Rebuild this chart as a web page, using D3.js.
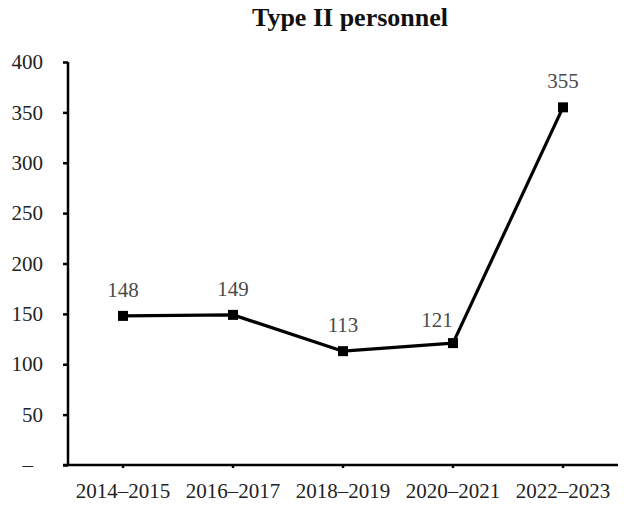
<!DOCTYPE html>
<html>
<head>
<meta charset="utf-8">
<script src="https://cdn.jsdelivr.net/npm/d3@7"></script>
<style>
  body { margin: 0; background: #fff; }
  svg { display: block; }
  svg text { font-family: "Liberation Serif", "Times New Roman", serif; }
</style>
</head>
<body>
<div id="chart"></div>
<script>
const title = "Type II personnel";
const periods = ["2014–2015", "2016–2017", "2018–2019", "2020–2021", "2022–2023"];
const personnel = [148, 149, 113, 121, 355];
const yTicks = [0, 50, 100, 150, 200, 250, 300, 350, 400];

const width = 630, height = 510;
const margin = { top: 62, right: 12, bottom: 45, left: 68 };

const svg = d3.select("#chart").append("svg")
  .attr("width", width)
  .attr("height", height);

const x = d3.scaleBand()
  .domain(periods)
  .range([margin.left, width - margin.right]);

const y = d3.scaleLinear()
  .domain([0, 400])
  .range([height - margin.bottom, margin.top]);

// title
svg.append("text")
  .attr("x", 350)
  .attr("y", 26)
  .attr("text-anchor", "middle")
  .attr("font-size", 26)
  .attr("font-weight", "bold")
  .attr("fill", "#111")
  .text(title);

// y axis
const yAxis = svg.append("g")
  .attr("transform", `translate(${margin.left},0)`)
  .call(d3.axisLeft(y).tickValues(yTicks).tickSize(5).tickPadding(20)
    .tickFormat(d => d === 0 ? "–" : d))
  .attr("font-family", "Liberation Serif, serif")
  .attr("font-size", 21);
yAxis.select(".domain").attr("stroke", "#000").attr("stroke-width", 2.5)
  .attr("d", `M0,${y(400)}V${y(0)}`);
yAxis.selectAll(".tick line").attr("stroke", "#000").attr("stroke-width", 2.5);
yAxis.selectAll(".tick text").attr("fill", "#222");
// the zero dash sits a bit further left than the numbers
yAxis.selectAll(".tick text").filter(d => d === 0).attr("x", -35);

// x axis
const xAxis = svg.append("g")
  .attr("transform", `translate(0,${y(0)})`)
  .call(d3.axisBottom(x).tickSize(3).tickPadding(15))
  .attr("font-family", "Liberation Serif, serif")
  .attr("font-size", 21);
xAxis.select(".domain").attr("stroke", "#000").attr("stroke-width", 2.5)
  .attr("d", `M${margin.left - 5},0H${width - margin.right}`);
xAxis.selectAll(".tick line").attr("stroke", "#000").attr("stroke-width", 2.5);
xAxis.selectAll(".tick text").attr("fill", "#222");

// line
const cx = (d, i) => x(periods[i]) + x.bandwidth() / 2;
const line = d3.line()
  .x(cx)
  .y(d => y(d));

svg.append("path")
  .datum(personnel)
  .attr("fill", "none")
  .attr("stroke", "#000")
  .attr("stroke-width", 3.2)
  .attr("stroke-linejoin", "round")
  .attr("d", line);

// markers
const ms = 10;
svg.selectAll("rect.marker")
  .data(personnel)
  .enter()
  .append("rect")
  .attr("class", "marker")
  .attr("x", (d, i) => cx(d, i) - ms / 2)
  .attr("y", d => y(d) - ms / 2)
  .attr("width", ms)
  .attr("height", ms)
  .attr("fill", "#000");

// value labels (the 2020–2021 one sits left of the rising line)
const labelDx = (i) => (i === 3 ? -16 : 0);
const labelDy = (i) => (i === 3 ? -16 : -19);
svg.selectAll("text.value")
  .data(personnel)
  .enter()
  .append("text")
  .attr("class", "value")
  .attr("x", (d, i) => cx(d, i) + labelDx(i))
  .attr("y", (d, i) => y(d) + labelDy(i))
  .attr("text-anchor", "middle")
  .attr("font-size", 21)
  .attr("fill", "#4a4a4a")
  .text(d => d);
</script>
</body>
</html>
